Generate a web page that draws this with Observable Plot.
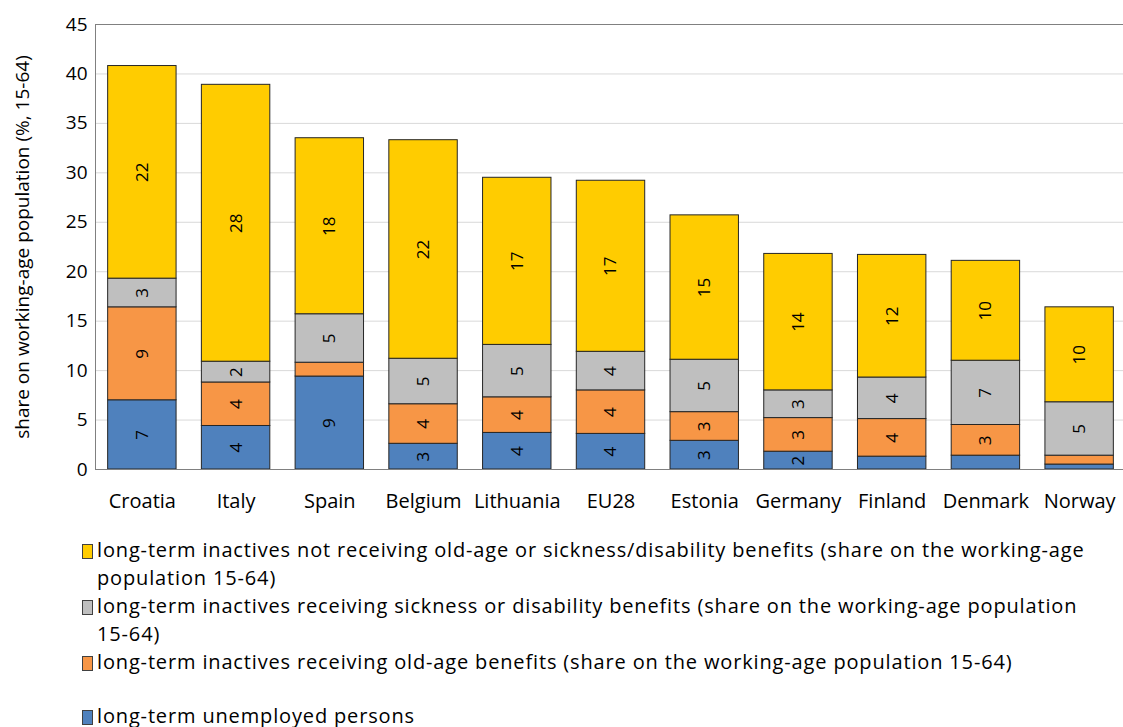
<!DOCTYPE html>
<html><head><meta charset="utf-8">
<script src="https://cdn.jsdelivr.net/npm/d3@7"></script>
<script src="https://cdn.jsdelivr.net/npm/@observablehq/plot@0.6"></script>
<style>
body{margin:0;background:#fff;font-family:"Open Sans",sans-serif;}
#chart{position:absolute;left:0;top:0;}
#legend{position:absolute;left:82px;top:536px;width:1020px;font-size:20px;letter-spacing:0.85px;color:#000;line-height:28px;}
.item{display:flex;align-items:flex-start;}
.item.gap{margin-top:26px;}
.sw{width:9px;height:13px;border:1px solid #404040;margin-top:8px;margin-right:4px;flex:none;}
</style></head><body>
<div id="chart"></div>
<div id="legend"></div>
<script>
const countries = ["Croatia","Italy","Spain","Belgium","Lithuania","EU28","Estonia","Germany","Finland","Denmark","Norway"];
const unemployed = [7.0, 4.4, 9.4, 2.6, 3.7, 3.6, 2.9, 1.8, 1.3, 1.4, 0.5];
const oldAge     = [9.4, 4.4, 1.4, 4.0, 3.6, 4.4, 2.9, 3.4, 3.8, 3.1, 0.9];
const sickness   = [2.9, 2.1, 4.9, 4.6, 5.3, 3.9, 5.3, 2.8, 4.2, 6.5, 5.4];
const notReceiving = [21.5, 28.0, 17.8, 22.1, 16.9, 17.3, 14.6, 13.8, 12.4, 10.1, 9.6];

const seriesNames = [
  "long-term unemployed persons",
  "long-term inactives receiving old-age benefits (share on the working-age population 15-64)",
  "long-term inactives receiving sickness or disability benefits (share on the working-age population 15-64)",
  "long-term inactives not receiving old-age or sickness/disability benefits (share on the working-age population 15-64)"
];
const seriesColors = ["#4F81BD", "#F79646", "#BFBFBF", "#FFCC00"];
const seriesValues = [unemployed, oldAge, sickness, notReceiving];
const yTicks = [0,5,10,15,20,25,30,35,40,45];
const yLabel = "share on working-age population (%, 15-64)";

const rows = [];
countries.forEach((c, i) => {
  seriesNames.forEach((s, j) => rows.push({country: c, series: s, value: seriesValues[j][i]}));
});

const chart = Plot.plot({
  width: 1123, height: 524,
  marginTop: 24, marginBottom: 55, marginLeft: 95, marginRight: 0,
  style: {fontFamily: "Open Sans", fontSize: "18px", background: "white", color: "#000"},
  x: {domain: countries, range: [95, 1126], paddingInner: 0.27, paddingOuter: 0.135, round: false, label: null},
  y: {domain: [0, 45], label: null},
  color: {domain: seriesNames, range: seriesColors},
  marks: [
    Plot.ruleY(yTicks.slice(1, -1), {stroke: "#d9d9d9", strokeWidth: 1}),
    Plot.barY(rows, {x: "country", y: "value", fill: "series", stroke: "#262626", strokeWidth: 1}),
    Plot.text(rows, Plot.stackY({x: "country", y: "value",
      text: d => d.value >= 1.5 ? String(Math.round(d.value)) : "",
      rotate: -90, fontSize: 17, fill: "#000"})),
    Plot.frame({stroke: "#808080"}),
    Plot.axisX({tickSize: 0, tickPadding: 24, fontSize: 20, label: null, style: {letterSpacing: "1px"}}),
    Plot.axisY({ticks: yTicks, tickSize: 0, tickPadding: 8, fontSize: 19, label: null}),
    Plot.text([yLabel], {frameAnchor: "left", dx: -73, rotate: -90, textAnchor: "middle", fontSize: 19, fill: "#000",
      style: {letterSpacing: "0.5px"}})
  ]
});
document.getElementById("chart").appendChild(chart);

const legend = document.getElementById("legend");
[3, 2, 1, 0].forEach((j, k) => {
  const it = document.createElement("div");
  it.className = "item" + (k === 3 ? " gap" : "");
  const sw = document.createElement("span");
  sw.className = "sw";
  sw.style.background = seriesColors[j];
  const tx = document.createElement("span");
  tx.textContent = seriesNames[j];
  it.appendChild(sw); it.appendChild(tx);
  legend.appendChild(it);
});
</script></body></html>
